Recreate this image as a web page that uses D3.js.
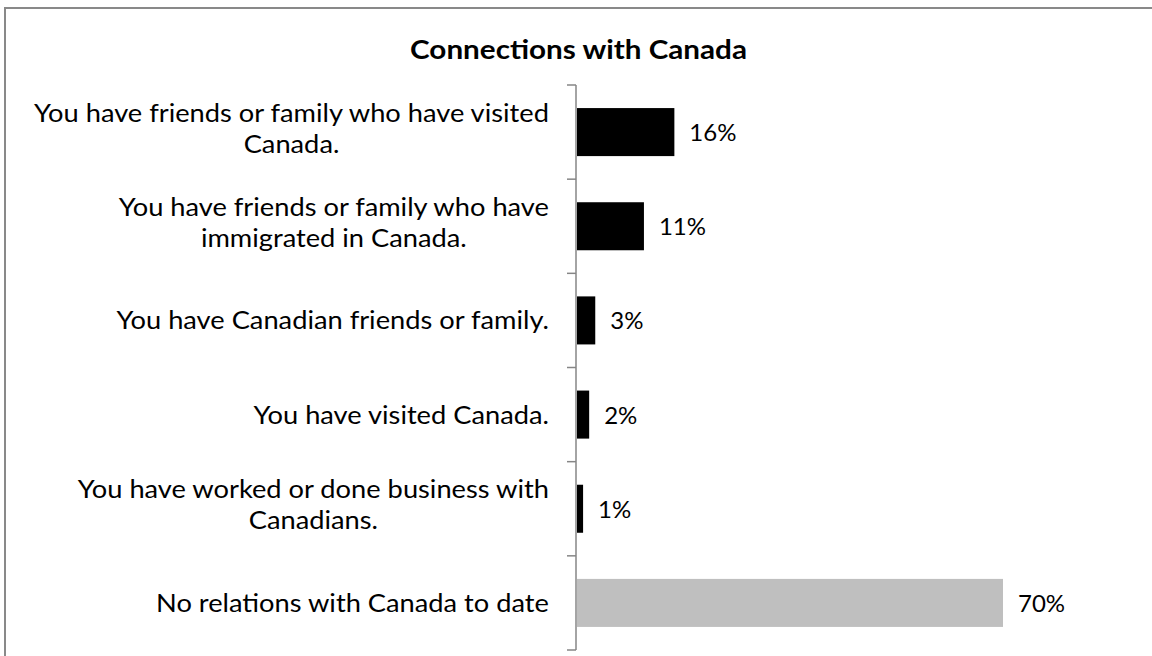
<!DOCTYPE html>
<html>
<head>
<meta charset="utf-8">
<script src="https://cdn.jsdelivr.net/npm/d3@7"></script>
<style>
  body { margin: 0; background: #fff; }
  svg { display: block; font-family: Lato, "Open Sans", sans-serif; }
</style>
</head>
<body>
<svg id="chart" width="1152" height="656"></svg>
<script>
// chart data
const categories = [
    ['You have friends or family who have visited', 'Canada.'],
    ['You have friends or family who have', 'immigrated in Canada.'],
    ['You have Canadian friends or family.'],
    ['You have visited Canada.'],
    ['You have worked or done business with', 'Canadians.'],
    ['No relations with Canada to date']
];
const values = [16, 11, 3, 2, 1, 70];
const barColors = ['#000000', '#000000', '#000000', '#000000', '#000000', '#bfbfbf'];
const title = 'Connections with Canada';

const svg = d3.select('#chart');

// outer frame (only top and left edges fall inside the picture)
svg.append('rect')
    .attr('x', 5)
    .attr('y', 8)
    .attr('width', 1200)
    .attr('height', 700)
    .attr('fill', 'none')
    .attr('stroke', '#898989')
    .attr('stroke-width', 2);

// title, fitted to the width of the original face
const titleText = svg.append('text')
    .attr('y', 59)
    .attr('text-anchor', 'middle')
    .style('font-size', '26px')
    .style('font-weight', 'bold')
    .text(title);
const tk = 337 / titleText.node().getComputedTextLength();
titleText.attr('transform', `translate(578.5,0) scale(${tk},1)`);

const axisX = 576;
const xScale = d3.scaleLinear().domain([0, 70]).range([axisX + 1, 1003]);
const yScale = d3.scaleBand()
    .domain(d3.range(categories.length))
    .range([85, 650])
    .paddingInner(0.49)
    .paddingOuter(0.245);

// bars
svg.selectAll('.bar')
    .data(values)
    .join('rect')
    .attr('class', 'bar')
    .attr('x', xScale(0))
    .attr('y', (d, i) => yScale(i))
    .attr('width', d => xScale(d) - xScale(0))
    .attr('height', yScale.bandwidth())
    .attr('fill', (d, i) => barColors[i]);

// y axis with tick marks at category boundaries
const bounds = d3.range(categories.length + 1).map(i => 85 + i * (565 / categories.length));
const axisG = svg.append('g').attr('stroke', '#868686').attr('stroke-width', 1.5);
axisG.append('line')
    .attr('x1', axisX).attr('x2', axisX)
    .attr('y1', bounds[0]).attr('y2', bounds[bounds.length - 1]);
axisG.selectAll('.tick')
    .data(bounds)
    .join('line')
    .attr('x1', axisX - 9).attr('x2', axisX)
    .attr('y1', d => d).attr('y2', d => d);

// small horizontal adjustment so the labels run as wide as the original ones
const fontSize = 25;
const probe = svg.append('text').style('font-size', fontSize + 'px').text(categories[0][0]);
const k = 515 / probe.node().getComputedTextLength();
probe.remove();

// value labels
svg.selectAll('.val')
    .data(values)
    .join('text')
    .attr('class', 'val')
    .attr('x', d => xScale(d) + 15)
    .attr('y', (d, i) => yScale(i) + yScale.bandwidth() / 2 + 9)
    .style('font-size', '24px')
    .text(d => d + '%');

// category labels, lines centred on each other and right-aligned to the axis
const labelRight = 549;
const lineH = 31;
categories.forEach((lines, i) => {
    const cy = yScale(i) + yScale.bandwidth() / 2;
    const g = svg.append('g');
    const texts = lines.map((ln, j) => g.append('text')
        .attr('y', cy + 9 + (j - (lines.length - 1) / 2) * lineH - (lines.length - 1) * 4)
        .attr('text-anchor', 'middle')
        .style('font-size', fontSize + 'px')
        .text(ln));
    const maxW = d3.max(texts, t => t.node().getComputedTextLength()) * k;
    g.attr('transform', `translate(${labelRight - maxW / 2},0) scale(${k},1)`);
});
</script>
</body>
</html>
